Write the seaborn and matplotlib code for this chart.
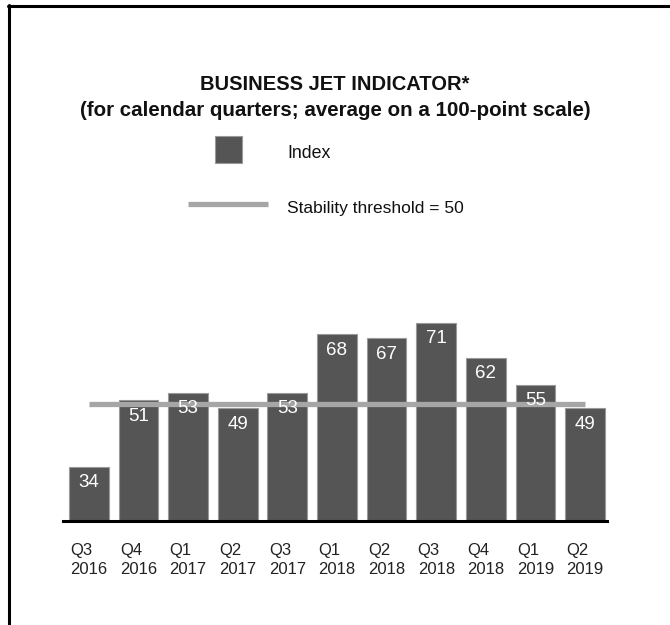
import matplotlib
matplotlib.use("Agg")
import matplotlib.pyplot as plt
import seaborn as sns
import pandas as pd
from matplotlib.patches import Rectangle
from matplotlib.lines import Line2D

quarters = ["Q3\n2016", "Q4\n2016", "Q1\n2017", "Q2\n2017", "Q3\n2017", "Q1\n2018",
            "Q2\n2018", "Q3\n2018", "Q4\n2018", "Q1\n2019", "Q2\n2019"]
index_values = [34, 51, 53, 49, 53, 68, 67, 71, 62, 55, 49]
threshold = 50

sns.set_theme(style="white")
plt.rcParams['font.family'] = ['Liberation Sans', 'DejaVu Sans']

W, H = 670, 625
fig = plt.figure(figsize=(W / 100, H / 100), dpi=100)

def fx(px):
    return px / W

def fy(py):
    return 1 - py / H

ax_left, ax_right = 63, 607
ax_bottom, ax_top = 521, 210
ax = fig.add_axes([fx(ax_left), fy(ax_bottom), (ax_right - ax_left) / W, (ax_bottom - ax_top) / H])

df = pd.DataFrame({"quarter": quarters, "value": index_values})
bar_color = "#555555"
sns.barplot(data=df, x="quarter", y="value", color=bar_color, saturation=1,
            width=0.8, edgecolor="#9a9a9a", linewidth=0.8, ax=ax)

ax.set_ylim(20, 100)
ax.set_xlim(-0.52, len(quarters) - 1 + 0.44)

# threshold line from first to last category centre
ax.plot([0, len(quarters) - 1], [threshold, threshold], color="#a6a6a6", lw=3.8,
        solid_capstyle="butt", zorder=3)

# value labels
for i, v in enumerate(index_values):
    ax.annotate(str(v), (i, v), xytext=(0, -16), textcoords="offset pixels",
                ha="center", va="center", color="white", fontsize=13.5, zorder=4)

for s in ["top", "right", "left"]:
    ax.spines[s].set_visible(False)
ax.spines["bottom"].set_color("black")
ax.spines["bottom"].set_linewidth(2.2)
ax.set_yticks([])
ax.set_xlabel("")
ax.set_ylabel("")
ax.tick_params(axis="x", length=0, pad=16, labelsize=12, colors="#222222")
for lbl in ax.get_xticklabels():
    lbl.set_linespacing(1.35)
    lbl.set_multialignment("left")

# titles
fig.text(0.5, fy(85), "BUSINESS JET INDICATOR*", ha="center", va="center",
         fontsize=14.5, fontweight="bold", color="#111111")
fig.text(0.5, fy(110), "(for calendar quarters; average on a 100-point scale)",
         ha="center", va="center", fontsize=14.8, fontweight="bold", color="#111111")

# legend
fig.patches.append(Rectangle((fx(215), fy(163)), 27 / W, 27 / H, transform=fig.transFigure,
                             facecolor=bar_color, edgecolor="#9a9a9a", linewidth=0.8))
fig.text(fx(287), fy(153), "Index", ha="left", va="center", fontsize=12.8, color="#111111")
fig.lines.append(Line2D([fx(188), fx(268)], [fy(204), fy(204)], transform=fig.transFigure,
                        color="#a6a6a6", lw=3.8, solid_capstyle="butt"))
fig.text(fx(287), fy(209), "Stability threshold = 50", ha="left", va="center",
         fontsize=12.5, color="#111111")

# frame lines
fig.lines.append(Line2D([fx(8), 1], [fy(5.5), fy(5.5)], transform=fig.transFigure,
                        color="black", lw=2.2))
fig.lines.append(Line2D([fx(9), fx(9)], [fy(4.5), 0], transform=fig.transFigure,
                        color="black", lw=2.2))

fig.savefig("out.png", dpi=100)
